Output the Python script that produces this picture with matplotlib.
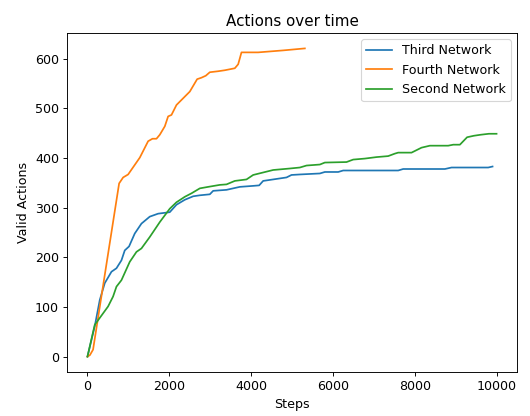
import matplotlib
matplotlib.use("Agg")
import matplotlib.pyplot as plt

# Third Network
third_x = [0, 178, 301, 423, 587, 709, 831, 912, 1017, 1156, 1320, 1523, 1727, 2012,
           2176, 2380, 2584, 2747, 2991, 3073, 3399, 3562, 3725, 4051, 4197, 4295,
           4540, 4866, 4988, 5192, 5681, 5803, 6129, 6251, 7596, 7718, 8737, 8900,
           9796, 9902]
third_y = [0, 61, 114, 148, 171, 178, 194, 214, 222, 248, 268, 282, 288, 291,
           306, 316, 323, 325, 327, 334, 336, 339, 342, 344, 345, 354,
           357, 361, 366, 367, 369, 372, 372, 375, 375, 378, 378, 381,
           381, 383]

# Fourth Network
fourth_x = [0, 60, 137, 774, 872, 994, 1280, 1483, 1589, 1687, 1768, 1891, 1972, 2054,
            2176, 2502, 2681, 2787, 2893, 2991, 3195, 3358, 3602, 3684, 3765, 4173,
            4784, 5314]
fourth_y = [0, 3, 14, 349, 361, 367, 401, 434, 439, 439, 447, 464, 484, 487,
            507, 534, 559, 562, 566, 573, 575, 577, 581, 589, 613, 613,
            617, 621]

# Second Network
second_x = [0, 178, 504, 626, 709, 831, 1034, 1198, 1320, 1523, 1768, 2012,
            2176, 2380, 2543, 2747, 2951, 3236, 3399,
            3602, 3888, 4051, 4295, 4540, 4947, 5192, 5355, 5681, 5803, 6333, 6496,
            6781, 7066, 7351, 7514, 7596, 7922, 8166, 8370, 8818, 8941, 9104, 9280,
            9446, 9609, 9813, 10000]
second_y = [0, 64, 101, 121, 141, 154, 191, 211, 218, 241, 271, 298,
            311, 322, 329, 339, 342, 346, 347,
            354, 357, 366, 371, 376, 379, 381, 385, 387, 391, 392, 397,
            399, 402, 404, 409, 411, 411, 421, 425, 425, 427, 427, 442,
            445, 447, 449, 449]

dpi = 82.8125
plt.rcParams["font.size"] = 11
fig = plt.figure(figsize=(530 / dpi, 416 / dpi), dpi=dpi)
ax = fig.add_axes([67 / 530, 44 / 416, 450 / 530, 339 / 416])

ax.plot(third_x, third_y, label="Third Network")
ax.plot(fourth_x, fourth_y, label="Fourth Network")
ax.plot(second_x, second_y, label="Second Network")

ax.set_title("Actions over time")
ax.set_xlabel("Steps")
ax.set_ylabel("Valid Actions")
ax.legend(loc="upper right")

fig.savefig("out.png", dpi=dpi)
